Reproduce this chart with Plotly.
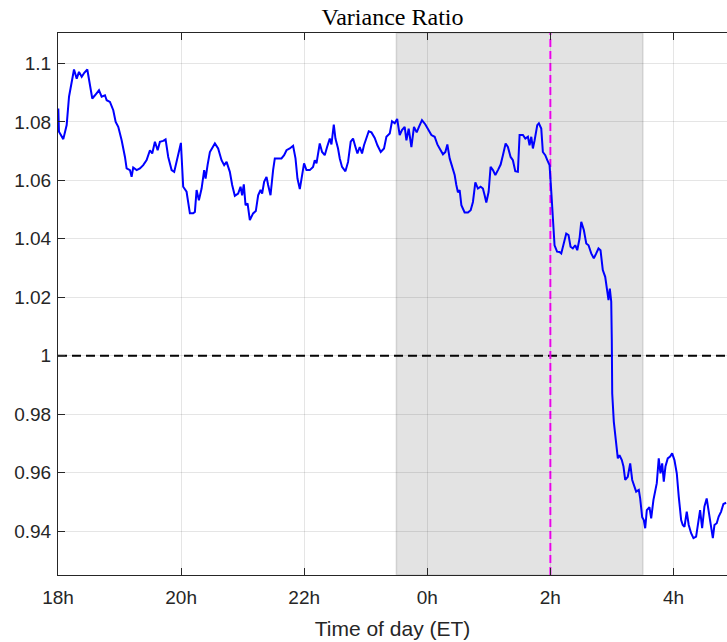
import plotly.graph_objects as go

# Time axis: hours elapsed since 18:00 ET
hours = [
    0.005, 0.016, 0.086, 0.141, 0.179, 0.222, 0.260, 0.304, 0.341, 0.385,
    0.427, 0.476, 0.519, 0.557, 0.601, 0.666, 0.709, 0.763, 0.791, 0.844,
    0.898, 0.937, 0.979, 1.034, 1.088, 1.115, 1.169, 1.196, 1.222, 1.278,
    1.331, 1.385, 1.440, 1.494, 1.531, 1.575, 1.619, 1.656, 1.709, 1.748,
    1.791, 1.846, 1.888, 1.943, 1.997, 2.034, 2.089, 2.143, 2.196, 2.224,
    2.252, 2.289, 2.333, 2.375, 2.398, 2.430, 2.468, 2.549, 2.602, 2.657,
    2.700, 2.739, 2.792, 2.830, 2.873, 2.927, 2.966, 2.992, 3.019, 3.047,
    3.080, 3.117, 3.170, 3.214, 3.252, 3.291, 3.317, 3.349, 3.388, 3.414,
    3.453, 3.495, 3.523, 3.576, 3.631, 3.674, 3.713, 3.766, 3.820, 3.859,
    3.891, 3.929, 3.966, 3.998, 4.037, 4.091, 4.144, 4.172, 4.200, 4.226,
    4.253, 4.291, 4.334, 4.372, 4.416, 4.443, 4.481, 4.508, 4.550, 4.578,
    4.615, 4.670, 4.713, 4.756, 4.794, 4.833, 4.865, 4.903, 4.940, 4.972,
    5.011, 5.049, 5.093, 5.146, 5.190, 5.244, 5.297, 5.336, 5.390, 5.427,
    5.471, 5.511, 5.552, 5.589, 5.633, 5.661, 5.698, 5.742, 5.784, 5.828,
    5.865, 5.914, 5.969, 6.011, 6.067, 6.120, 6.164, 6.201, 6.255, 6.294,
    6.326, 6.364, 6.401, 6.445, 6.472, 6.498, 6.526, 6.554, 6.607, 6.661,
    6.705, 6.742, 6.781, 6.823, 6.867, 6.904, 6.932, 6.959, 6.997, 7.029,
    7.067, 7.106, 7.148, 7.192, 7.229, 7.273, 7.310, 7.354, 7.391, 7.430,
    7.472, 7.500, 7.554, 7.593, 7.635, 7.662, 7.690, 7.716, 7.744, 7.787,
    7.813, 7.852, 7.878, 7.917, 7.950, 7.987, 8.015, 8.041, 8.068, 8.109,
    8.149, 8.177, 8.219, 8.258, 8.295, 8.328, 8.365, 8.404, 8.437, 8.474,
    8.502, 8.544, 8.583, 8.620, 8.664, 8.706, 8.745, 8.782, 8.815, 8.852,
    8.891, 8.924, 8.945, 8.966, 8.989, 8.998, 9.005, 9.031, 9.054, 9.070,
    9.086, 9.096, 9.123, 9.161, 9.188, 9.216, 9.258, 9.297, 9.330, 9.356,
    9.394, 9.437, 9.459, 9.492, 9.518, 9.541, 9.567, 9.610, 9.638, 9.675,
    9.708, 9.729, 9.761, 9.789, 9.817, 9.843, 9.870, 9.907, 9.946, 9.979,
    10.016, 10.054, 10.086, 10.125, 10.151, 10.179, 10.216, 10.248, 10.287, 10.325,
    10.368, 10.406, 10.433, 10.466, 10.503, 10.540, 10.573, 10.612, 10.640, 10.666,
    10.703, 10.735, 10.774, 10.812, 10.856,
]

variance_ratio = [
    1.0846, 1.0766, 1.0741, 1.0789, 1.0886, 1.0943, 1.0979, 1.0948, 1.0971, 1.0954,
    1.0968, 1.0979, 1.0925, 1.0880, 1.0891, 1.0908, 1.0886, 1.0891, 1.0874, 1.0868,
    1.0840, 1.0800, 1.0783, 1.0737, 1.0680, 1.0641, 1.0635, 1.0612, 1.0644, 1.0635,
    1.0641, 1.0652, 1.0669, 1.0703, 1.0692, 1.0732, 1.0703, 1.0732, 1.0735, 1.0740,
    1.0680, 1.0635, 1.0629, 1.0680, 1.0728, 1.0578, 1.0561, 1.0487, 1.0487, 1.0492,
    1.0567, 1.0532, 1.0572, 1.0635, 1.0606, 1.0652, 1.0697, 1.0726, 1.0709, 1.0669,
    1.0652, 1.0663, 1.0629, 1.0584, 1.0547, 1.0555, 1.0578, 1.0549, 1.0586, 1.0515,
    1.0521, 1.0464, 1.0487, 1.0495, 1.0549, 1.0567, 1.0555, 1.0595, 1.0612, 1.0584,
    1.0549, 1.0635, 1.0675, 1.0675, 1.0675, 1.0686, 1.0703, 1.0709, 1.0718, 1.0675,
    1.0606, 1.0570, 1.0612, 1.0658, 1.0635, 1.0635, 1.0646, 1.0669, 1.0658, 1.0697,
    1.0726, 1.0697, 1.0686, 1.0714, 1.0743, 1.0723, 1.0791, 1.0743, 1.0709, 1.0675,
    1.0646, 1.0631, 1.0663, 1.0732, 1.0743, 1.0714, 1.0692, 1.0714, 1.0692, 1.0720,
    1.0749, 1.0768, 1.0764, 1.0745, 1.0720, 1.0697, 1.0709, 1.0749, 1.0760, 1.0802,
    1.0795, 1.0810, 1.0755, 1.0772, 1.0783, 1.0737, 1.0777, 1.0714, 1.0783, 1.0764,
    1.0783, 1.0806, 1.0791, 1.0777, 1.0755, 1.0749, 1.0723, 1.0709, 1.0689, 1.0697,
    1.0723, 1.0675, 1.0646, 1.0618, 1.0584, 1.0559, 1.0567, 1.0515, 1.0490, 1.0490,
    1.0498, 1.0526, 1.0593, 1.0572, 1.0578, 1.0572, 1.0549, 1.0524, 1.0561, 1.0646,
    1.0635, 1.0618, 1.0635, 1.0654, 1.0686, 1.0726, 1.0714, 1.0680, 1.0669, 1.0631,
    1.0629, 1.0755, 1.0755, 1.0743, 1.0749, 1.0720, 1.0749, 1.0709, 1.0737, 1.0789,
    1.0795, 1.0777, 1.0697, 1.0686, 1.0669, 1.0652, 1.0561, 1.0470, 1.0378, 1.0356,
    1.0355, 1.0350, 1.0384, 1.0418, 1.0413, 1.0373, 1.0367, 1.0378, 1.0361, 1.0401,
    1.0458, 1.0430, 1.0384, 1.0378, 1.0350, 1.0333, 1.0350, 1.0367, 1.0361, 1.0293,
    1.0270, 1.0213, 1.0190, 1.0230, 1.0185, 1.0054, 0.9871, 0.9774, 0.9735, 0.9701,
    0.9666, 0.9649, 0.9660, 0.9643, 0.9621, 0.9575, 0.9586, 0.9632, 0.9575, 0.9558,
    0.9535, 0.9541, 0.9512, 0.9448, 0.9438, 0.9410, 0.9472, 0.9482, 0.9444, 0.9507,
    0.9547, 0.9564, 0.9649, 0.9598, 0.9632, 0.9569, 0.9621, 0.9649, 0.9655, 0.9666,
    0.9643, 0.9598, 0.9518, 0.9438, 0.9421, 0.9415, 0.9467, 0.9421, 0.9393, 0.9376,
    0.9381, 0.9438, 0.9472, 0.9410, 0.9484, 0.9512, 0.9461, 0.9415, 0.9376, 0.9421,
    0.9427, 0.9450, 0.9467, 0.9493, 0.9497,
]

x_tickvals = [0, 2, 4, 6, 8, 10]
x_ticktext = ["18h", "20h", "22h", "0h", "2h", "4h"]
y_tickvals = [0.94, 0.96, 0.98, 1.00, 1.02, 1.04, 1.06, 1.08, 1.10]
y_ticktext = ["0.94", "0.96", "0.98", "1", "1.02", "1.04", "1.06", "1.08", "1.1"]

# Shaded session window (23:30 to 03:30) and event marker at 02:00
window_start, window_end = 5.5, 9.5
event_time = 8.0
reference_level = 1.0

AXIS_COLOR = "#262626"
GRID_COLOR = "rgba(38,38,38,0.12)"

fig = go.Figure()

fig.add_trace(go.Scatter(
    x=hours, y=variance_ratio, mode="lines",
    line=dict(color="#0000ff", width=2),
    hoverinfo="skip", showlegend=False,
))

fig.add_shape(
    type="rect", xref="x", yref="paper",
    x0=window_start, x1=window_end, y0=0, y1=1,
    fillcolor="#e3e3e3", line=dict(color="#d0d0d0", width=1.5),
    layer="below",
)
fig.add_shape(
    type="line", xref="paper", yref="y",
    x0=0, x1=1, y0=reference_level, y1=reference_level,
    line=dict(color="#000000", width=2, dash="9px,5px"),
    layer="between",
)
fig.add_shape(
    type="line", xref="x", yref="paper",
    x0=event_time, x1=event_time, y0=0, y1=1,
    line=dict(color="#ff00ff", width=2, dash="8px,4px"),
    layer="between",
)

fig.update_layout(
    width=727, height=642,
    margin=dict(l=58, r=0, t=33, b=67),
    paper_bgcolor="white", plot_bgcolor="white",
    title=dict(
        text="Variance Ratio",
        font=dict(family="Liberation Serif", size=24, color="#000000"),
        x=0.5, xanchor="center", xref="paper",
        y=1 - 25 / 642, yanchor="bottom", yref="container",
    ),
    font=dict(family="Liberation Sans", color=AXIS_COLOR),
)

fig.update_xaxes(
    range=[0, 10.87],
    tickmode="array", tickvals=x_tickvals, ticktext=x_ticktext,
    tickfont=dict(size=19, color=AXIS_COLOR),
    ticks="inside", ticklen=7, tickwidth=1, tickcolor=AXIS_COLOR,
    ticklabelstandoff=5,
    showline=True, linecolor=AXIS_COLOR, linewidth=1, mirror="ticks",
    showgrid=True, gridcolor=GRID_COLOR, gridwidth=1,
    zeroline=False,
    title=dict(text="Time of day (ET)", font=dict(size=21, color=AXIS_COLOR), standoff=14),
)
fig.update_yaxes(
    range=[0.925, 1.1104],
    tickmode="array", tickvals=y_tickvals, ticktext=y_ticktext,
    tickfont=dict(size=19, color=AXIS_COLOR),
    ticks="inside", ticklen=7, tickwidth=1, tickcolor=AXIS_COLOR,
    ticklabelstandoff=2,
    showline=True, linecolor=AXIS_COLOR, linewidth=1, mirror=False,
    showgrid=True, gridcolor=GRID_COLOR, gridwidth=1,
    zeroline=False,
)

fig.write_html("out.html")
